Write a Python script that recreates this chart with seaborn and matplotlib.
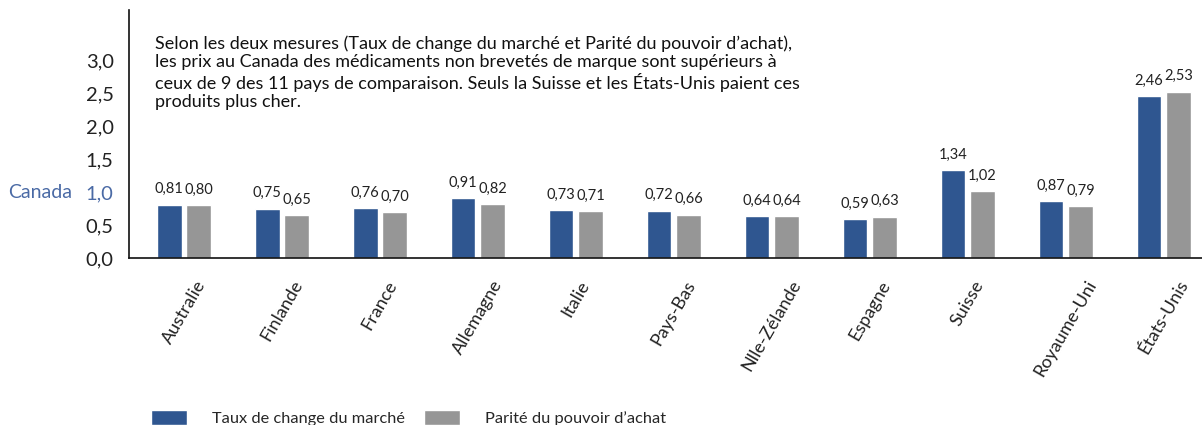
import numpy as np
import pandas as pd
import matplotlib.pyplot as plt
import seaborn as sns

# data
pays = ["Australie", "Finlande", "France", "Allemagne", "Italie", "Pays-Bas",
        "Nlle-Zélande", "Espagne", "Suisse", "Royaume-Uni", "États-Unis"]
taux_marche = [0.81, 0.75, 0.76, 0.91, 0.73, 0.72, 0.64, 0.59, 1.34, 0.87, 2.46]
parite_achat = [0.80, 0.65, 0.70, 0.82, 0.71, 0.66, 0.64, 0.63, 1.02, 0.79, 2.53]
series = ["Taux de change du marché", "Parité du pouvoir d’achat"]
y_ticks = [0.0, 0.5, 1.0, 1.5, 2.0, 2.5, 3.0]

note = ("Selon les deux mesures (Taux de change du marché et Parité du pouvoir d’achat),\n"
        "les prix au Canada des médicaments non brevetés de marque sont supérieurs à\n"
        "ceux de 9 des 11 pays de comparaison. Seuls la Suisse et les États-Unis paient ces\n"
        "produits plus cher.")

BLUE, GRAY, CANADA = "#2f5690", "#969696", "#4a6aa5"

df = pd.DataFrame({
    "pays": pays * 2,
    "mesure": [series[0]] * len(pays) + [series[1]] * len(pays),
    "valeur": taux_marche + parite_achat,
})

sns.set_style("white")
plt.rcParams["font.family"] = ["Lato", "DejaVu Sans"]

fig = plt.figure(figsize=(12.02, 4.25), dpi=100)
ax = fig.add_axes([129 / 1202, 1 - 258 / 425, 1 - 129 / 1202, (258 - 10) / 425])

sns.barplot(data=df, x="pays", y="valeur", hue="mesure", palette=[BLUE, GRAY],
            width=0.6, gap=0.16, saturation=1, ax=ax)

# value labels
for cont in ax.containers:
    ax.bar_label(cont, labels=[f"{v:.2f}".replace(".", ",") for v in cont.datavalues],
                 padding=6, fontsize=10.5, color="#222222")

ax.set_xlim(-0.56, 10.39)
ax.set_ylim(0, 3.77)
ax.set_yticks(y_ticks)
ax.set_yticklabels([f"{t:.1f}".replace(".", ",") for t in y_ticks], fontsize=14.5, color="#222222")
ax.yaxis.get_ticklabels()[2].set_color(CANADA)
ax.tick_params(axis="y", length=0, pad=11)
ax.tick_params(axis="x", length=0, pad=14)
ax.set_xticks(range(len(pays)))
ax.set_xticklabels(pays, rotation=60, ha="center", va="top", fontsize=13, color="#222222")
ax.set_xlabel("")
ax.set_ylabel("")
ax.annotate("Canada", xy=(0, 1.0), xycoords=("axes fraction", "data"),
            xytext=(-57, 0), textcoords="offset pixels", ha="right", va="center",
            fontsize=14, color=CANADA)

sns.despine(ax=ax, top=True, right=True)
for s in ["left", "bottom"]:
    ax.spines[s].set_color("#111111")
    ax.spines[s].set_linewidth(1.2)

ax.text(155 / 1202, 1 - 35 / 425, note, transform=fig.transFigure, ha="left", va="top",
        fontsize=13, linespacing=1.18, color="#111111")

sns.move_legend(ax, "lower left", bbox_to_anchor=(151 / 1202, -0.002),
                bbox_transform=fig.transFigure, ncol=2, frameon=False, title=None,
                fontsize=11.8, handlelength=2.2, handleheight=1.05, handletextpad=1.5,
                columnspacing=1.2, borderpad=0, borderaxespad=0)

fig.savefig("out.png", dpi=100)
